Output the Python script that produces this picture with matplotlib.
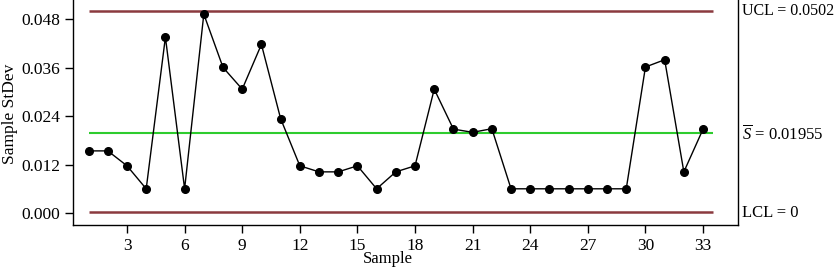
import matplotlib
matplotlib.use("Agg")
import matplotlib.pyplot as plt
import matplotlib.transforms as mtrans

samples = list(range(1, 34))
stdev = [0.0154, 0.0154, 0.0117, 0.0060, 0.0436, 0.0060, 0.0493, 0.0361, 0.0307, 0.0418,
         0.0234, 0.0117, 0.0102, 0.0102, 0.0117, 0.0060, 0.0102, 0.0117, 0.0307, 0.0208,
         0.0200, 0.0209, 0.0060, 0.0060, 0.0060, 0.0060, 0.0060, 0.0060, 0.0060, 0.0362,
         0.0380, 0.0102, 0.0208]
ucl = 0.0502
center = 0.01955
lcl = 0.0
xticks = [3, 6, 9, 12, 15, 18, 21, 24, 27, 30, 33]
yticks = [0.000, 0.012, 0.024, 0.036, 0.048]
ytick_labels = ["0.000", "0.012", "0.024", "0.036", "0.048"]

plt.rcParams['font.family'] = ['Liberation Serif', 'DejaVu Serif']
plt.rcParams['mathtext.fontset'] = 'custom'
plt.rcParams['mathtext.rm'] = 'Liberation Serif'
plt.rcParams['mathtext.it'] = 'Liberation Serif:italic'

fig = plt.figure(figsize=(8.36, 2.68), dpi=100)
ax = fig.add_axes([73/836, 1 - 225/268, (738-73)/836, (225+10)/268])

ax.plot([1, 33.5], [ucl, ucl], color='#8b3a3f', lw=1.8, solid_capstyle='butt')
ax.plot([1, 33.5], [lcl + 0.0003, lcl + 0.0003], color='#8b3a3f', lw=1.8, solid_capstyle='butt')
ax.plot([1, 33.5], [center + 0.0002, center + 0.0002], color='#2ecc2e', lw=1.5, solid_capstyle='butt')
ax.plot(samples, stdev, color='black', lw=1.0, marker='o', markersize=5.5, zorder=3)

ax.set_xlim(0.1875, 34.82)
ax.set_ylim(-0.002975, 0.05529)
ax.set_xticks(xticks)
ax.set_yticks(yticks)
ax.set_yticklabels(ytick_labels)
ax.tick_params(axis='both', direction='out', length=6, width=1, labelsize=12.5, colors='black')
ax.tick_params(axis='x', pad=3)
ax.tick_params(axis='y', pad=3)
for s in ['left', 'bottom', 'right', 'top']:
    ax.spines[s].set_linewidth(1.0)

ax.set_ylabel("Sample StDev", fontsize=12.5)
ax.yaxis.set_label_coords(-0.083, 0.472)
ax.set_xlabel("Sample", fontsize=12)
ax.xaxis.set_label_coords(0.474, -0.112)

trans = mtrans.blended_transform_factory(ax.transAxes, ax.transData)
ax.text(1.006, ucl, "UCL = 0.0502", transform=trans, fontsize=11.5, va='center', ha='left')
ax.text(1.006, center, r"$\overline{S}$ = 0.01955", transform=trans, fontsize=12, va='center', ha='left')
ax.text(1.006, lcl, "LCL = 0", transform=trans, fontsize=12, va='center', ha='left')

fig.savefig("out.png", dpi=100)
